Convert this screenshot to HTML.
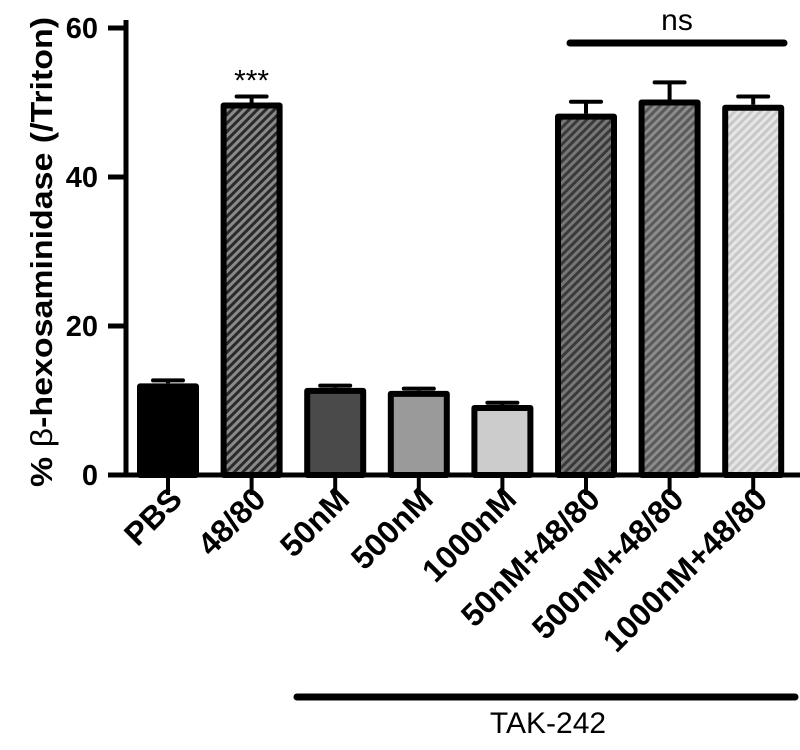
<!DOCTYPE html>
<html><head><meta charset="utf-8"><style>
html,body{margin:0;padding:0;background:#fff;}
svg{display:block;font-family:"Liberation Sans",Arial,sans-serif;}
</style></head><body>
<svg id="chart" width="800" height="750" viewBox="0 0 800 750">
<defs>
<pattern id="h1" patternUnits="userSpaceOnUse" width="6" height="6" patternTransform="rotate(45)"><rect width="6" height="6" fill="#8a8a8a"/><rect width="3" height="6" fill="#2a2a2a"/></pattern>
<pattern id="h2" patternUnits="userSpaceOnUse" width="6" height="6" patternTransform="rotate(45)"><rect width="6" height="6" fill="#777"/><rect width="3" height="6" fill="#3a3a3a"/></pattern>
<pattern id="h3" patternUnits="userSpaceOnUse" width="6" height="6" patternTransform="rotate(45)"><rect width="6" height="6" fill="#8c8c8c"/><rect width="3" height="6" fill="#5a5a5a"/></pattern>
<pattern id="h4" patternUnits="userSpaceOnUse" width="6" height="6" patternTransform="rotate(45)"><rect width="6" height="6" fill="#c8c8c8"/><rect width="3" height="6" fill="#e6e6e6"/></pattern>
</defs>
<g id="plot"></g>
</svg>
<script>
const categories = ["PBS","48/80","50nM","500nM","1000nM","50nM+48/80","500nM+48/80","1000nM+48/80"];
const values = [12.3, 50.0, 11.7, 11.3, 9.4, 48.5, 50.4, 49.7];
const errors = [0.4, 0.8, 0.3, 0.3, 0.3, 1.6, 2.3, 1.1];
const fills = ["#000","url(#h1)","#4a4a4a","#9a9a9a","#cccccc","url(#h2)","url(#h3)","url(#h4)"];
const yTicks = [0, 20, 40, 60];

const NS="http://www.w3.org/2000/svg";
const g=document.getElementById('plot');
const x0=126, y0=475, pxPerUnit=7.45, step=83.6, firstC=168, bw=56;
const yScale=v=>y0-v*pxPerUnit;
const xScale=i=>firstC+i*step;
function mk(t,a,p){const e=document.createElementNS(NS,t);for(const k in a)e.setAttribute(k,a[k]);(p||g).appendChild(e);return e;}

categories.forEach((c,i)=>{
  const cx=xScale(i), top=yScale(values[i]);
  const r=mk('rect',{x:cx-bw/2,y:top+3,width:bw,height:y0-top-3,fill:fills[i],stroke:'#000','stroke-width':6,'stroke-linejoin':'round'});
  
  
  const et=yScale(values[i]+errors[i]);
  const e1=mk('line',{x1:cx,x2:cx,y1:top,y2:et,stroke:'#000','stroke-width':4});
  
  
  const e2=mk('line',{x1:cx-15,x2:cx+15,y1:et,y2:et,stroke:'#000','stroke-width':4,'stroke-linecap':'round'});
  
  
  const tk=mk('line',{x1:cx,x2:cx,y1:y0,y2:y0+20,stroke:'#000','stroke-width':4});
  
  
  const lb=mk('text',{x:0,y:0,'text-anchor':'end','font-size':32,'font-weight':'bold',transform:`translate(${cx+16},${y0+26}) rotate(-45)`});
  lb.textContent=c;
  
  
});
// axes
const ya=mk('line',{x1:x0,x2:x0,y1:20,y2:y0+2,stroke:'#000','stroke-width':5});


const xa=mk('line',{x1:x0-2,x2:800,y1:y0,y2:y0,stroke:'#000','stroke-width':5});


yTicks.forEach(v=>{
  const y=yScale(v);
  const t=mk('line',{x1:x0-18,x2:x0,y1:y,y2:y,stroke:'#000','stroke-width':5});
  
  
  const l=mk('text',{x:x0-28,y:y+10,'text-anchor':'end','font-size':29,'font-weight':'bold'});
  l.textContent=v;
  
  
});
const yt=mk('text',{x:0,y:0,'text-anchor':'middle','font-size':31,'font-weight':'bold',textLength:470,lengthAdjust:'spacingAndGlyphs',transform:'translate(52,252) rotate(-90)'});
yt.innerHTML='% <tspan font-weight="normal">β</tspan>-hexosaminidase (/Triton)';


// annotations
const st=mk('text',{x:xScale(1),y:yScale(values[1]+errors[1])-6,'text-anchor':'middle','font-size':30});
st.textContent='***';


const nl=mk('line',{x1:570,x2:784,y1:43,y2:43,stroke:'#000','stroke-width':7,'stroke-linecap':'round'});


const nt=mk('text',{x:677,y:30,'text-anchor':'middle','font-size':30});
nt.textContent='ns';


const tl=mk('line',{x1:297,x2:795,y1:697,y2:697,stroke:'#000','stroke-width':7,'stroke-linecap':'round'});


const tt=mk('text',{x:548,y:733,'text-anchor':'middle','font-size':30});
tt.textContent='TAK-242';


</script>
</body></html>
